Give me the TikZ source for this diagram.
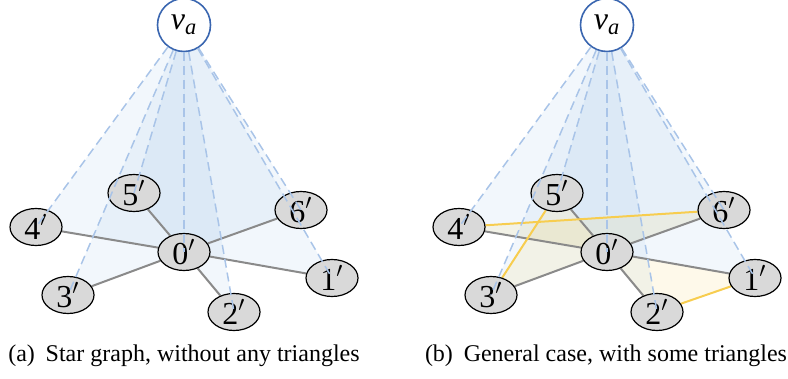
\documentclass[tikz,border=0pt]{standalone}
\usepackage{fontspec}
\setmainfont{Liberation Serif}
\usetikzlibrary{shapes.geometric,backgrounds}

\definecolor{hubblue}{HTML}{3A66B0}
\definecolor{vertgray}{HTML}{D9D9D9}
\definecolor{linkgray}{HTML}{8A8A8A}
\definecolor{projblue}{HTML}{A9C4E8}
\definecolor{coneblue}{HTML}{5B9BD5}
\definecolor{trigold}{HTML}{F7CD4F}

\tikzset{
  hub/.style={circle, draw=hubblue, line width=0.8pt, fill=white, minimum size=26.5pt, inner sep=0pt, font=\fontsize{16}{18}\selectfont},
  vert/.style={ellipse, draw, line width=0.6pt, fill=vertgray, minimum width=26pt, minimum height=18.5pt, inner sep=0pt, font=\fontsize{16}{18}\selectfont},
  link/.style={draw=linkgray, line width=1pt},
  tri/.style={draw=trigold, line width=1pt},
  proj/.style={draw=projblue, dash pattern=on 4.5pt off 2.5pt, line width=0.75pt},
  cone/.style={fill=coneblue, fill opacity=0.08},
  face/.style={fill=trigold, fill opacity=0.12},
  caption/.style={font=\fontsize{12}{14}\selectfont}
}

\begin{document}
\begin{tikzpicture}[x=0.5pt, y=-0.5pt]
\useasboundingbox (0,0) rectangle (788,379);

% left panel: star graph
\node[hub] (av) at (184,25) {\textit{v}\textsubscript{\textit{a}}};
\foreach \n/\x/\y in {0/184/252, 1/332/278, 2/234/312, 3/68/295, 4/36/227, 5/134/193, 6/301/210} {
    \node[vert] (a\n) at (\x,\y) {\n$'$};
}

% right panel: general case
\node[hub] (bv) at (607,25) {\textit{v}\textsubscript{\textit{a}}};
\foreach \n/\x/\y in {0/184/252, 1/332/278, 2/234/312, 3/68/295, 4/36/227, 5/134/193, 6/301/210} {
    \node[vert] (b\n) at (\x+423,\y) {\n$'$};
}

\begin{pgfonlayer}{background}
    % cone from v_a down to the graph
    \foreach \p in {a,b} {
        \foreach \i in {1,...,6} {
            \fill[cone] (\p v.center) -- (\p\i.center) -- (\p0.center) -- cycle;
        }
    }
    % triangles of the general case
    \fill[face] (b0.center) -- (b4.center) -- (b6.center) -- cycle;
    \fill[face] (b0.center) -- (b5.center) -- (b3.center) -- cycle;
    \fill[face] (b0.center) -- (b2.center) -- (b1.center) -- cycle;

    \foreach \p in {a,b} {
        \foreach \i in {1,...,6} {
            \draw[link] (\p0) -- (\p\i);
        }
    }
    \draw[tri] (b4) -- (b6);
    \draw[tri] (b5) -- (b3);
    \draw[tri] (b2) -- (b1);
\end{pgfonlayer}

% dashed projections
\foreach \p in {a,b} {
    \foreach \i in {0,...,6} {
        \draw[proj] (\p v) -- (\p\i.center);
    }
}

\node[caption] (capa) at (184,356) {(a)\hspace{0.45em}Star graph, without any triangles};
\node[caption] (capb) at (606,356) {(b)\hspace{0.45em}General case, with some triangles};
\end{tikzpicture}
\end{document}
